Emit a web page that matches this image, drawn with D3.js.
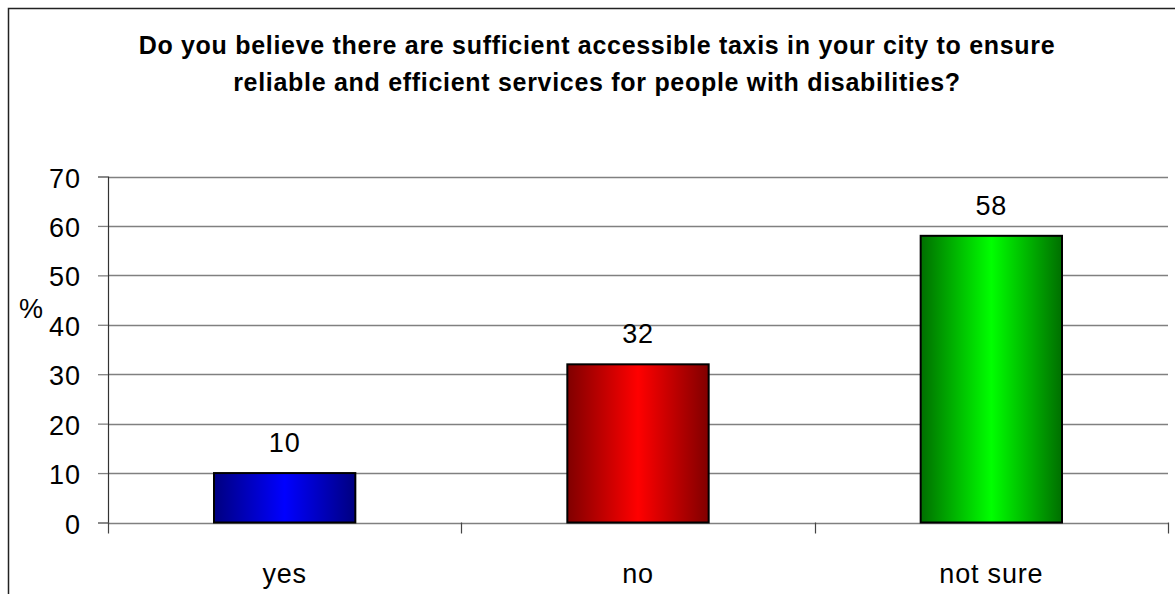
<!DOCTYPE html>
<html>
<head>
<meta charset="utf-8">
<script src="https://cdn.jsdelivr.net/npm/d3@7"></script>
<style>
  html, body { margin: 0; padding: 0; background: #fff; }
  svg { display: block; font-family: "Liberation Sans", Arial, Helvetica, sans-serif; }
</style>
</head>
<body>
<svg id="chart" width="1175" height="594"></svg>
<script>
// Survey answers and their shares in percent
const categories = ["yes", "no", "not sure"];
const values = [10, 32, 58];
const yTicks = [0, 10, 20, 30, 40, 50, 60, 70];
const titleLines = [
  "Do you believe there are sufficient accessible taxis in your city to ensure",
  "reliable and efficient services for people with disabilities?"
];
// Edge / centre colours for each bar's cylinder-like shading
const barDark = ["#000080", "#800000", "#006f00"];
const barLight = ["#0000ff", "#ff0000", "#00ff00"];

const svg = d3.select("#chart");
const W = 1175, H = 594;
const plot = { left: 108, right: 1168, top: 176.5, bottom: 522.5 };

// outer frame
svg.append("rect")
  .attr("x", 8.5).attr("y", 8.5)
  .attr("width", W + 20).attr("height", H + 20)
  .attr("fill", "none").attr("stroke", "#222").attr("stroke-width", 1.5);

// title
svg.append("g").selectAll("text").data(titleLines).join("text")
  .attr("x", 597).attr("y", (d, i) => 54 + i * 37)
  .attr("text-anchor", "middle")
  .attr("font-size", 25).attr("font-weight", "bold").attr("fill", "#000")
  .attr("letter-spacing", 0.7)
  .text(d => d);

const x = d3.scaleBand().domain(categories)
  .range([plot.left, plot.right]).paddingInner(0.6).paddingOuter(0.3);
const y = d3.scaleLinear().domain([0, 70]).range([plot.bottom, plot.top]);

// gradients
const defs = svg.append("defs");
categories.forEach((c, i) => {
  const g = defs.append("linearGradient").attr("id", "grad" + i)
    .attr("x1", "0%").attr("x2", "100%").attr("y1", "0%").attr("y2", "0%");
  g.append("stop").attr("offset", "0%").attr("stop-color", barDark[i]);
  g.append("stop").attr("offset", "50%").attr("stop-color", barLight[i]);
  g.append("stop").attr("offset", "100%").attr("stop-color", barDark[i]);
});

// gridlines
svg.append("g").selectAll("line").data(yTicks.filter(t => t > 0)).join("line")
  .attr("x1", plot.left).attr("x2", plot.right)
  .attr("y1", d => Math.round(y(d)) + 0.5).attr("y2", d => Math.round(y(d)) + 0.5)
  .attr("stroke", "#808080").attr("stroke-width", 1.3);

// y axis
const yAxis = d3.axisLeft(y).tickValues(yTicks).tickSize(10).tickPadding(17);
const yG = svg.append("g").attr("transform", `translate(${plot.left},0)`).call(yAxis);
yG.select(".domain").attr("stroke", "#333").attr("stroke-width", 1.2);
yG.selectAll(".tick line").attr("stroke", "#808080").attr("stroke-width", 1.3);
yG.selectAll(".tick text").attr("font-size", 27).attr("fill", "#000")
  .attr("letter-spacing", 1).attr("dy", "0.39em")
  .attr("font-family", "'Liberation Sans', Arial, sans-serif");

// x axis baseline and category separators
const xG = svg.append("g");
xG.append("line")
  .attr("x1", plot.left).attr("x2", plot.right)
  .attr("y1", Math.round(plot.bottom) + 0.5).attr("y2", Math.round(plot.bottom) + 0.5)
  .attr("stroke", "#808080").attr("stroke-width", 1.3);
const step = x.step();
const bounds = d3.range(categories.length + 1).map(i => plot.left + i * step);
xG.selectAll("line.sep").data(bounds).join("line").attr("class", "sep")
  .attr("x1", d => Math.round(d) + 0.5).attr("x2", d => Math.round(d) + 0.5)
  .attr("y1", plot.bottom).attr("y2", plot.bottom + 11)
  .attr("stroke", "#444").attr("stroke-width", 1.2);
xG.selectAll("text").data(categories).join("text")
  .attr("x", d => x(d) + x.bandwidth() / 2).attr("y", 583)
  .attr("text-anchor", "middle").attr("font-size", 27).attr("fill", "#000")
  .attr("letter-spacing", 0.8)
  .text(d => d);

// % label
svg.append("text").attr("x", 31).attr("y", 318)
  .attr("text-anchor", "middle").attr("font-size", 27).text("%");

// bars
svg.append("g").selectAll("rect").data(values).join("rect")
  .attr("x", (d, i) => x(categories[i]))
  .attr("y", d => y(d))
  .attr("width", x.bandwidth())
  .attr("height", d => y(0) - y(d))
  .attr("fill", (d, i) => `url(#grad${i})`)
  .attr("stroke", "#000").attr("stroke-width", 2);

// value labels
svg.append("g").selectAll("text").data(values).join("text")
  .attr("x", (d, i) => x(categories[i]) + x.bandwidth() / 2)
  .attr("y", d => y(d) - 21)
  .attr("text-anchor", "middle").attr("font-size", 27).attr("fill", "#000")
  .attr("letter-spacing", 0.8)
  .text(d => d);
</script>
</body>
</html>
